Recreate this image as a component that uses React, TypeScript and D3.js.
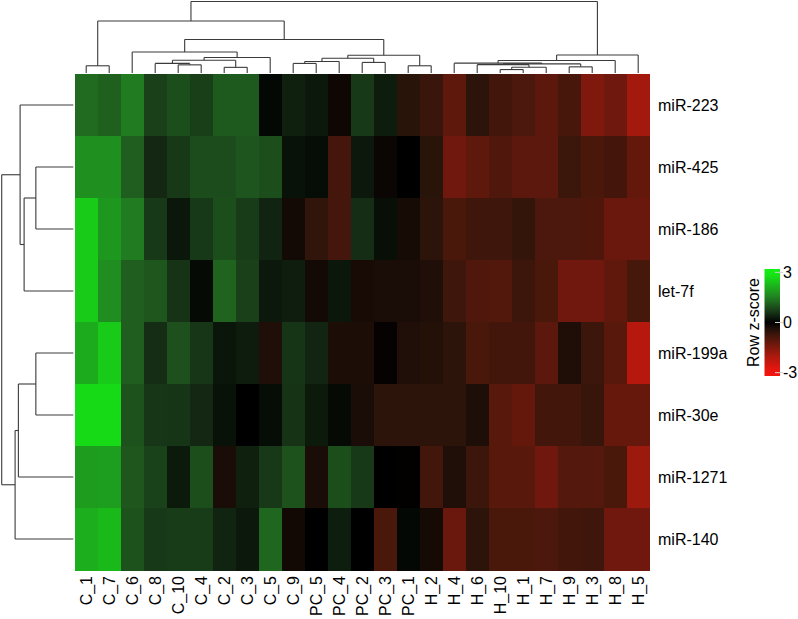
import React from "react";
import * as d3 from "d3";

const W = 798;
const H = 619;

const rowLabels = ["miR-223", "miR-425", "miR-186", "let-7f", "miR-199a", "miR-30e", "miR-1271", "miR-140"];

const colLabels = [
  "C_1", "C_7", "C_6", "C_8", "C_10", "C_4", "C_2", "C_3", "C_5", "C_9",
  "PC_5", "PC_4", "PC_2", "PC_3", "PC_1",
  "H_2", "H_4", "H_6", "H_10", "H_1", "H_7", "H_9", "H_3", "H_8", "H_5"
];

// row z-scores, one array per miRNA, in column order
const zScores = [
  [1.26, 1.13, 1.44, 0.75, 0.92, 0.74, 1.06, 1.06, 0.1, 0.38, 0.29, -0.18, 0.68, 0.33, -0.49, -0.68, -1.1, -0.52, -0.78, -0.9, -1.08, -0.85, -1.5, -1.3, -1.92],
  [1.7, 1.72, 1.1, 0.47, 0.68, 0.88, 0.88, 0.99, 0.92, 0.22, 0.14, -0.81, 0.28, -0.13, 0, -0.49, -1.32, -1.1, -0.94, -1.08, -1.08, -0.69, -0.87, -0.8, -1.18],
  [2.5, 1.81, 1.44, 0.68, 0.27, 0.68, 0.92, 0.71, 0.42, -0.24, -0.58, -0.81, 0.54, 0.18, -0.27, -0.52, -0.87, -0.73, -0.73, -0.61, -0.9, -0.9, -0.93, -1.25, -1.25],
  [2.5, 1.68, 1.1, 1.01, 0.6, 0.12, 1.16, 0.75, 0.29, 0.35, -0.24, 0.27, -0.28, -0.31, -0.31, -0.38, -0.73, -0.94, -0.96, -0.71, -0.87, -1.32, -1.32, -1.13, -0.82],
  [2.07, 2.5, 1.1, 0.54, 0.94, 0.64, 0.26, 0.33, -0.38, 0.62, 0.44, -0.33, -0.33, -0.06, -0.38, -0.42, -0.52, -0.87, -0.78, -0.78, -1.08, -0.36, -0.71, -1.04, -2.16],
  [2.7, 2.7, 0.96, 0.64, 0.62, 0.47, 0.21, 0, 0.14, 0.6, 0.31, 0.12, -0.31, -0.52, -0.52, -0.52, -0.52, -0.35, -1.04, -1.18, -0.78, -0.78, -0.66, -1.2, -1.2],
  [1.88, 1.9, 1.01, 0.78, 0.31, 0.92, -0.31, 0.38, 0.67, 0.96, -0.31, 0.92, 0.67, 0, -0.02, -0.78, -0.38, -0.71, -1.04, -1.04, -1.32, -0.99, -0.99, -0.87, -1.84],
  [2.12, 2.26, 0.96, 0.68, 0.71, 0.71, 0.42, 0.28, 1.2, -0.21, 0, 0.36, 0, -0.87, 0.09, -0.26, -1.25, -0.52, -0.87, -0.87, -0.9, -0.78, -0.73, -1.32, -1.32]
];

// hclust style merges: negative = leaf (1-based display position), positive = earlier merge
const colMerge = [
  [-5, -6], [-4, 1], [-7, -8], [2, 3], [4, -9], [-3, 5], [-1, -2], [-10, -11],
  [8, -12], [-13, -14], [9, 10], [-15, -16], [11, 12], [6, 13], [7, 14],
  [-19, -20], [16, -21], [-22, -23], [-18, 17], [19, 18], [-17, 20], [21, -24],
  [22, -25], [15, 23]
];
const colHeight = [
  1.14, 1.34, 0.79, 1.79, 2.17, 2.94, 1.01, 1.34, 1.61, 1.48, 2.07, 1.01, 2.48,
  4.69, 7.27, 0.48, 0.8, 0.86, 1.17, 1.27, 1.38, 1.75, 2.52, 10
];

const rowMerge = [[-2, -3], [1, -4], [-1, 2], [-5, -6], [4, -7], [5, -8], [3, 6]];
const rowHeight = [5.23, 6.87, 7.43, 5.23, 7.67, 8.13, 10];

const legendTicks = [3, 0, -3];

const FONT = "'Liberation Sans', Arial, sans-serif";

const colorScale = d3
  .scaleLinear<string>()
  .domain([-3, -2, -1, -0.5, 0, 0.5, 1, 1.5, 3])
  .range(["#f5140f", "#aa190e", "#55180c", "#2a140a", "#000000", "#142a14", "#1e551e", "#218021", "#14f014"])
  .clamp(true);

// turn a merge table into rectangular dendrogram segments [pos1, h1, pos2, h2]
function dendroSegments(merge: number[][], height: number[], leafPos: (i: number) => number) {
  const nodePos: number[] = [];
  const segs: number[][] = [];
  merge.forEach(([a, b], i) => {
    const pa = a < 0 ? leafPos(-a - 1) : nodePos[a - 1];
    const pb = b < 0 ? leafPos(-b - 1) : nodePos[b - 1];
    const ha = a < 0 ? 0 : height[a - 1];
    const hb = b < 0 ? 0 : height[b - 1];
    const h = height[i];
    nodePos[i] = (pa + pb) / 2;
    segs.push([pa, h, pb, h]);
    segs.push([pa, ha, pa, h]);
    segs.push([pb, hb, pb, h]);
  });
  return segs;
}

export default function App() {
  const x = d3.scaleBand<string>().domain(colLabels).range([74.7, 649.7]);
  const y = d3.scaleBand<string>().domain(rowLabels).range([74, 570]);

  const colH = d3.scaleLinear().domain([0, 10]).range([73, 1.5]);
  const rowH = d3.scaleLinear().domain([0, 10]).range([73.3, 1.7]);

  const colSegs = dendroSegments(colMerge, colHeight, (i) => x(colLabels[i])! + x.bandwidth() / 2);
  const rowSegs = dendroSegments(rowMerge, rowHeight, (i) => y(rowLabels[i])! + y.bandwidth() / 2);

  const legendY = d3.scaleLinear().domain([-3.2, 3.2]).range([376, 269]);
  const gradStops = d3.range(-3.2, 3.21, 0.4);

  return (
    <div style={{ position: "absolute", left: 0, top: 0 }}>
      <svg width={W} height={H} style={{ display: "block", background: "#fff" }}>
        <defs>
          <linearGradient id="zgrad" x1="0" y1="1" x2="0" y2="0">
            {gradStops.map((v) => (
              <stop key={v} offset={(v + 3.2) / 6.4} stopColor={colorScale(v)} />
            ))}
          </linearGradient>
        </defs>

        {/* heatmap cells */}
        <g shapeRendering="crispEdges">
          {rowLabels.map((r, ri) =>
            colLabels.map((c, ci) => (
              <rect
                key={r + c}
                x={x(c)}
                y={y(r)}
                width={x.bandwidth() + 0.5}
                height={y.bandwidth() + 0.5}
                fill={colorScale(zScores[ri][ci])}
              />
            ))
          )}
        </g>

        {/* column dendrogram */}
        <g stroke="#3a3a3a" strokeWidth={1.1} fill="none">
          {colSegs.map((s, i) => (
            <line key={i} x1={s[0]} y1={colH(s[1])} x2={s[2]} y2={colH(s[3])} />
          ))}
        </g>

        {/* row dendrogram */}
        <g stroke="#3a3a3a" strokeWidth={1.1} fill="none">
          {rowSegs.map((s, i) => (
            <line key={i} x1={rowH(s[1])} y1={s[0]} x2={rowH(s[3])} y2={s[2]} />
          ))}
        </g>

        {/* row labels */}
        <g fontFamily={FONT} fontSize={16} fill="#000">
          {rowLabels.map((r) => (
            <text key={r} x={658} y={y(r)! + y.bandwidth() / 2} dy="0.35em">
              {r}
            </text>
          ))}
        </g>

        {/* column labels */}
        <g fontFamily={FONT} fontSize={16} fill="#000">
          {colLabels.map((c) => (
            <text
              key={c}
              transform={`translate(${x(c)! + x.bandwidth() / 2},576) rotate(-90)`}
              textAnchor="end"
              dy="0.35em"
            >
              {c}
            </text>
          ))}
        </g>

        {/* colour key */}
        <rect x={764.5} y={legendY(3.2)} width={15.5} height={legendY(-3.2) - legendY(3.2)} fill="url(#zgrad)" />
        {legendTicks.map((t) => (
          <g key={t}>
            <line x1={775} x2={783} y1={legendY(t)} y2={legendY(t)} stroke="#cfcfcf" strokeWidth={1} />
            <text x={783} y={legendY(t)} dy="0.36em" fontFamily={FONT} fontSize={16}>
              {t}
            </text>
          </g>
        ))}
        <text
          transform={`translate(759,${legendY(0)}) rotate(-90)`}
          textAnchor="middle"
          fontFamily={FONT}
          fontSize={16}
        >
          Row z-score
        </text>
      </svg>
    </div>
  );
}
